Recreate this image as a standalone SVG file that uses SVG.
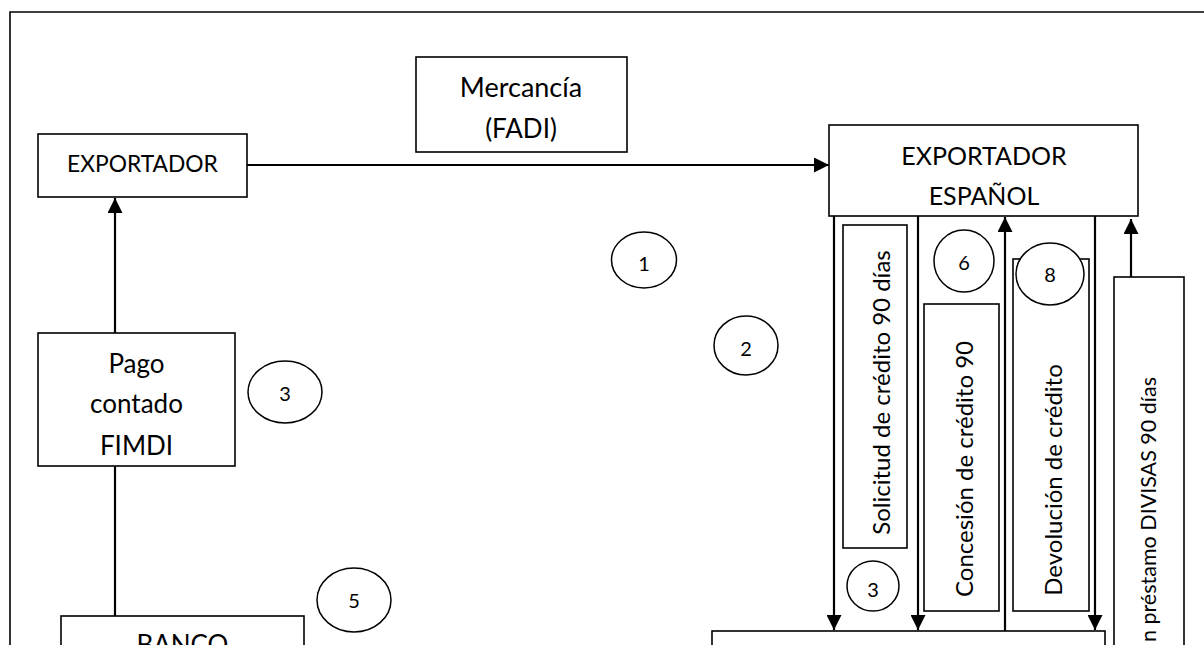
<svg xmlns="http://www.w3.org/2000/svg" width="1204" height="645" viewBox="0 0 1204 645">
<style>
.box{fill:#fff;stroke:#000;stroke-width:1.6}
.circ{fill:#fff;stroke:#000;stroke-width:1.5}
.t{font-family:Lato,"Open Sans",sans-serif;fill:#000;text-anchor:middle}
.n{font-family:Lato,"Open Sans",sans-serif;fill:#000;text-anchor:middle;font-size:20px}
.c{fill:none;stroke:#000;stroke-width:2.2}
</style>
<defs>
<marker id="ah" markerUnits="userSpaceOnUse" markerWidth="16" markerHeight="15" refX="15" refY="7.5" orient="auto">
<path d="M0,0 L15,7.5 L0,15 z" fill="#000"/>
</marker>
</defs>
<rect width="1204" height="645" fill="#fff"/>
<path d="M10,660 L10,12 L1210,12" fill="none" stroke="#000" stroke-width="1.6"/>

<g id="connectors">
<line class="c" x1="247" y1="165" x2="829" y2="165" marker-end="url(#ah)"/>
<line class="c" x1="115" y1="333" x2="115" y2="198" marker-end="url(#ah)"/>
<line class="c" x1="115" y1="466" x2="115" y2="616"/>
<line class="c" x1="834" y1="216" x2="834" y2="630" marker-end="url(#ah)"/>
<line class="c" x1="918" y1="216" x2="918" y2="630" marker-end="url(#ah)"/>
<line class="c" x1="1005" y1="631" x2="1005" y2="217" marker-end="url(#ah)"/>
<line class="c" x1="1095" y1="216" x2="1095" y2="630" marker-end="url(#ah)"/>
<line class="c" x1="1131" y1="277" x2="1131" y2="219" marker-end="url(#ah)"/>
</g>

<g id="exportador">
<rect class="box" x="38" y="134" width="209" height="63"/>
<text class="t" x="142.5" y="172" font-size="22.8">EXPORTADOR</text>
</g>
<g id="mercancia">
<rect class="box" x="416" y="57" width="211" height="95"/>
<text class="t" x="521" y="97" font-size="27">Mercancía</text>
<text class="t" x="521" y="138" font-size="26">(FADI)</text>
</g>
<g id="exportador-espanol">
<rect class="box" x="829" y="125" width="309" height="91"/>
<text class="t" x="984" y="165" font-size="25">EXPORTADOR</text>
<text class="t" x="984" y="205" font-size="25">ESPAÑOL</text>
</g>
<g id="pago">
<rect class="box" x="38" y="333" width="197" height="133"/>
<text class="t" x="136.5" y="373" font-size="26">Pago</text>
<text class="t" x="136.5" y="413" font-size="26">contado</text>
<text class="t" x="136.5" y="455" font-size="26">FIMDI</text>
</g>
<g id="banco">
<rect class="box" x="61" y="616" width="243" height="60"/>
<text class="t" x="182.5" y="654" font-size="26">BANCO</text>
</g>
<g id="banco-espanol">
<rect class="box" x="712" y="631" width="393" height="60"/>
</g>
<g id="solicitud">
<rect class="box" x="843" y="225" width="64" height="323"/>
<text class="t" transform="translate(890,392.5) rotate(-90)" font-size="24">Solicitud de crédito 90 días</text>
</g>
<g id="concesion">
<rect class="box" x="924" y="304" width="75" height="307"/>
<text class="t" transform="translate(973,469) rotate(-90)" font-size="24">Concesión de crédito 90</text>
</g>
<g id="devolucion">
<rect class="box" x="1013" y="259" width="76" height="352"/>
<text class="t" transform="translate(1062,480) rotate(-90)" font-size="24">Devolución de crédito</text>
</g>
<g id="prestamo">
<rect class="box" x="1114" y="277" width="70" height="400"/>
<text class="t" transform="translate(1156,377) rotate(-90)" font-size="21.5" style="text-anchor:end">n préstamo DIVISAS 90 días</text>
</g>

<g id="c1"><ellipse class="circ" cx="644" cy="260" rx="32.5" ry="28"/><text class="n" x="644" y="271">1</text></g>
<g id="c2"><ellipse class="circ" cx="746" cy="345.5" rx="32" ry="29.5"/><text class="n" x="746" y="356">2</text></g>
<g id="c3a"><ellipse class="circ" cx="285" cy="392" rx="37" ry="31"/><text class="n" x="285" y="401">3</text></g>
<g id="c5"><ellipse class="circ" cx="354" cy="600" rx="37" ry="32"/><text class="n" x="354" y="608">5</text></g>
<g id="c6"><ellipse class="circ" cx="964" cy="261" rx="30" ry="31"/><text class="n" x="964" y="270">6</text></g>
<g id="c8"><ellipse class="circ" cx="1050" cy="274" rx="34" ry="31"/><text class="n" x="1050" y="282">8</text></g>
<g id="c3b"><ellipse class="circ" cx="873" cy="586" rx="26" ry="25"/><text class="n" x="873" y="597">3</text></g>
</svg>
